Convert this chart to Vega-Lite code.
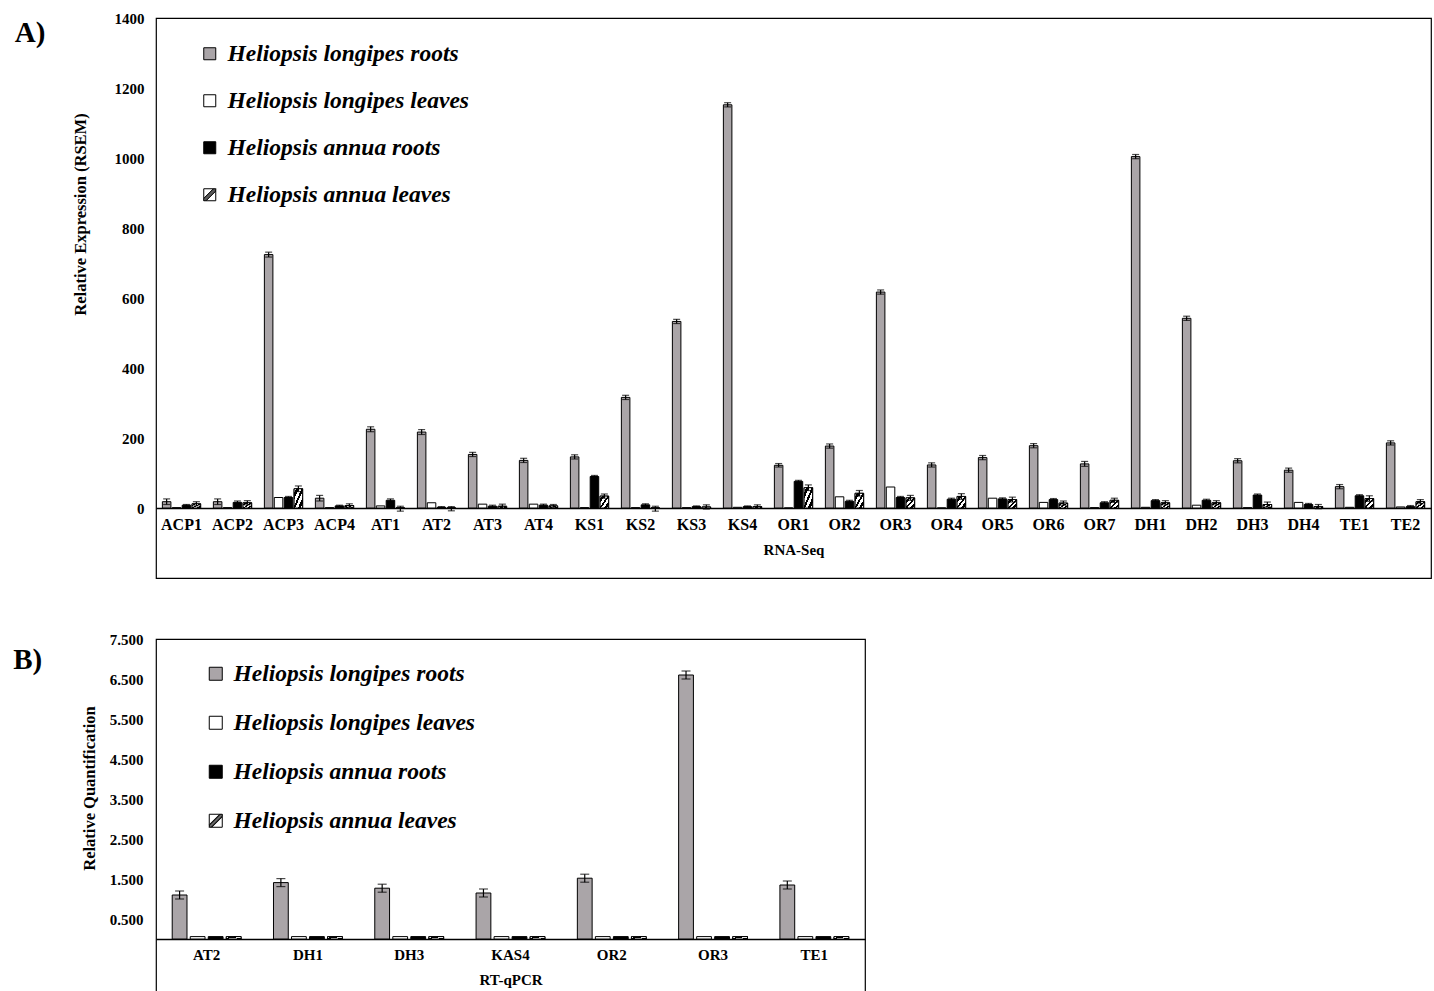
{
  "$schema": "https://vega.github.io/schema/vega-lite/v6.json",
  "padding": {"left": 12, "top": 10, "right": 0, "bottom": 0},
  "spacing": 52,
  "config": {
    "font": "Liberation Serif",
    "view": {"stroke": "black", "strokeWidth": 1.2},
    "axis": {"labelFont": "Liberation Serif", "labelFontWeight": "bold", "labelColor": "black", "titleFont": "Liberation Serif", "titleFontWeight": "bold", "titleColor": "black", "grid": false, "ticks": false},
    "legend": {"labelFont": "Liberation Serif", "labelFontWeight": "bold", "labelFontStyle": "italic", "labelColor": "black", "symbolType": "square", "symbolStrokeColor": "black", "symbolStrokeWidth": 1, "padding": 0, "labelLimit": 500}
  },
  "resolve": {"legend": {"fill": "independent"}, "scale": {"x": "independent", "xOffset": "independent", "y": "independent", "fill": "independent"}},
  "datasets": {
    "rna": [
      {"gene": "ACP1", "group": "Heliopsis longipes roots", "v": 18, "lo": 10, "hi": 26},
      {"gene": "ACP1", "group": "Heliopsis longipes leaves", "v": 1},
      {"gene": "ACP1", "group": "Heliopsis annua roots", "v": 8, "lo": 6, "hi": 10},
      {"gene": "ACP1", "group": "Heliopsis annua leaves", "v": 12, "lo": 6, "hi": 18},
      {"gene": "ACP2", "group": "Heliopsis longipes roots", "v": 18, "lo": 10, "hi": 26},
      {"gene": "ACP2", "group": "Heliopsis longipes leaves", "v": 1},
      {"gene": "ACP2", "group": "Heliopsis annua roots", "v": 16, "lo": 12, "hi": 20},
      {"gene": "ACP2", "group": "Heliopsis annua leaves", "v": 15, "lo": 9, "hi": 21},
      {"gene": "ACP3", "group": "Heliopsis longipes roots", "v": 724, "lo": 717, "hi": 731},
      {"gene": "ACP3", "group": "Heliopsis longipes leaves", "v": 30},
      {"gene": "ACP3", "group": "Heliopsis annua roots", "v": 30, "lo": 27, "hi": 33},
      {"gene": "ACP3", "group": "Heliopsis annua leaves", "v": 55, "lo": 47, "hi": 63},
      {"gene": "ACP4", "group": "Heliopsis longipes roots", "v": 28, "lo": 20, "hi": 36},
      {"gene": "ACP4", "group": "Heliopsis longipes leaves", "v": 1},
      {"gene": "ACP4", "group": "Heliopsis annua roots", "v": 6, "lo": 4, "hi": 8},
      {"gene": "ACP4", "group": "Heliopsis annua leaves", "v": 7, "lo": 2, "hi": 12},
      {"gene": "AT1", "group": "Heliopsis longipes roots", "v": 225, "lo": 218, "hi": 232},
      {"gene": "AT1", "group": "Heliopsis longipes leaves", "v": 6},
      {"gene": "AT1", "group": "Heliopsis annua roots", "v": 22, "lo": 18, "hi": 26},
      {"gene": "AT1", "group": "Heliopsis annua leaves", "v": 0, "lo": -9, "hi": 5},
      {"gene": "AT2", "group": "Heliopsis longipes roots", "v": 217, "lo": 210, "hi": 224},
      {"gene": "AT2", "group": "Heliopsis longipes leaves", "v": 15},
      {"gene": "AT2", "group": "Heliopsis annua roots", "v": 2, "lo": 0, "hi": 4},
      {"gene": "AT2", "group": "Heliopsis annua leaves", "v": 0, "lo": -8, "hi": 4},
      {"gene": "AT3", "group": "Heliopsis longipes roots", "v": 153, "lo": 147, "hi": 159},
      {"gene": "AT3", "group": "Heliopsis longipes leaves", "v": 11},
      {"gene": "AT3", "group": "Heliopsis annua roots", "v": 5, "lo": 2, "hi": 8},
      {"gene": "AT3", "group": "Heliopsis annua leaves", "v": 5, "lo": -1, "hi": 11},
      {"gene": "AT4", "group": "Heliopsis longipes roots", "v": 136, "lo": 130, "hi": 142},
      {"gene": "AT4", "group": "Heliopsis longipes leaves", "v": 11},
      {"gene": "AT4", "group": "Heliopsis annua roots", "v": 8, "lo": 5, "hi": 11},
      {"gene": "AT4", "group": "Heliopsis annua leaves", "v": 6, "lo": 2, "hi": 10},
      {"gene": "KS1", "group": "Heliopsis longipes roots", "v": 146, "lo": 140, "hi": 152},
      {"gene": "KS1", "group": "Heliopsis longipes leaves", "v": 1},
      {"gene": "KS1", "group": "Heliopsis annua roots", "v": 90, "lo": 87, "hi": 93},
      {"gene": "KS1", "group": "Heliopsis annua leaves", "v": 34, "lo": 28, "hi": 40},
      {"gene": "KS2", "group": "Heliopsis longipes roots", "v": 316, "lo": 310, "hi": 322},
      {"gene": "KS2", "group": "Heliopsis longipes leaves", "v": 1},
      {"gene": "KS2", "group": "Heliopsis annua roots", "v": 9, "lo": 6, "hi": 12},
      {"gene": "KS2", "group": "Heliopsis annua leaves", "v": 0, "lo": -9, "hi": 5},
      {"gene": "KS3", "group": "Heliopsis longipes roots", "v": 533, "lo": 527, "hi": 539},
      {"gene": "KS3", "group": "Heliopsis longipes leaves", "v": 1},
      {"gene": "KS3", "group": "Heliopsis annua roots", "v": 4, "lo": 2, "hi": 6},
      {"gene": "KS3", "group": "Heliopsis annua leaves", "v": 3, "lo": -3, "hi": 9},
      {"gene": "KS4", "group": "Heliopsis longipes roots", "v": 1152, "lo": 1146, "hi": 1158},
      {"gene": "KS4", "group": "Heliopsis longipes leaves", "v": 2},
      {"gene": "KS4", "group": "Heliopsis annua roots", "v": 4, "lo": 2, "hi": 6},
      {"gene": "KS4", "group": "Heliopsis annua leaves", "v": 4, "lo": -1, "hi": 9},
      {"gene": "OR1", "group": "Heliopsis longipes roots", "v": 122, "lo": 117, "hi": 127},
      {"gene": "OR1", "group": "Heliopsis longipes leaves", "v": 0},
      {"gene": "OR1", "group": "Heliopsis annua roots", "v": 76, "lo": 73, "hi": 79},
      {"gene": "OR1", "group": "Heliopsis annua leaves", "v": 58, "lo": 50, "hi": 66},
      {"gene": "OR2", "group": "Heliopsis longipes roots", "v": 177, "lo": 171, "hi": 183},
      {"gene": "OR2", "group": "Heliopsis longipes leaves", "v": 32},
      {"gene": "OR2", "group": "Heliopsis annua roots", "v": 19, "lo": 16, "hi": 22},
      {"gene": "OR2", "group": "Heliopsis annua leaves", "v": 42, "lo": 34, "hi": 50},
      {"gene": "OR3", "group": "Heliopsis longipes roots", "v": 617, "lo": 611, "hi": 623},
      {"gene": "OR3", "group": "Heliopsis longipes leaves", "v": 60},
      {"gene": "OR3", "group": "Heliopsis annua roots", "v": 30, "lo": 27, "hi": 33},
      {"gene": "OR3", "group": "Heliopsis annua leaves", "v": 29, "lo": 22, "hi": 36},
      {"gene": "OR4", "group": "Heliopsis longipes roots", "v": 123, "lo": 117, "hi": 129},
      {"gene": "OR4", "group": "Heliopsis longipes leaves", "v": 0},
      {"gene": "OR4", "group": "Heliopsis annua roots", "v": 25, "lo": 22, "hi": 28},
      {"gene": "OR4", "group": "Heliopsis annua leaves", "v": 33, "lo": 25, "hi": 41},
      {"gene": "OR5", "group": "Heliopsis longipes roots", "v": 144, "lo": 138, "hi": 150},
      {"gene": "OR5", "group": "Heliopsis longipes leaves", "v": 28},
      {"gene": "OR5", "group": "Heliopsis annua roots", "v": 26, "lo": 23, "hi": 29},
      {"gene": "OR5", "group": "Heliopsis annua leaves", "v": 24, "lo": 17, "hi": 31},
      {"gene": "OR6", "group": "Heliopsis longipes roots", "v": 178, "lo": 172, "hi": 184},
      {"gene": "OR6", "group": "Heliopsis longipes leaves", "v": 16},
      {"gene": "OR6", "group": "Heliopsis annua roots", "v": 24, "lo": 21, "hi": 27},
      {"gene": "OR6", "group": "Heliopsis annua leaves", "v": 14, "lo": 8, "hi": 20},
      {"gene": "OR7", "group": "Heliopsis longipes roots", "v": 126, "lo": 119, "hi": 133},
      {"gene": "OR7", "group": "Heliopsis longipes leaves", "v": 1},
      {"gene": "OR7", "group": "Heliopsis annua roots", "v": 15, "lo": 12, "hi": 18},
      {"gene": "OR7", "group": "Heliopsis annua leaves", "v": 22, "lo": 16, "hi": 28},
      {"gene": "DH1", "group": "Heliopsis longipes roots", "v": 1004, "lo": 998, "hi": 1010},
      {"gene": "DH1", "group": "Heliopsis longipes leaves", "v": 2},
      {"gene": "DH1", "group": "Heliopsis annua roots", "v": 21, "lo": 18, "hi": 24},
      {"gene": "DH1", "group": "Heliopsis annua leaves", "v": 15, "lo": 9, "hi": 21},
      {"gene": "DH2", "group": "Heliopsis longipes roots", "v": 542, "lo": 536, "hi": 548},
      {"gene": "DH2", "group": "Heliopsis longipes leaves", "v": 8},
      {"gene": "DH2", "group": "Heliopsis annua roots", "v": 22, "lo": 19, "hi": 25},
      {"gene": "DH2", "group": "Heliopsis annua leaves", "v": 15, "lo": 9, "hi": 21},
      {"gene": "DH3", "group": "Heliopsis longipes roots", "v": 135, "lo": 129, "hi": 141},
      {"gene": "DH3", "group": "Heliopsis longipes leaves", "v": 1},
      {"gene": "DH3", "group": "Heliopsis annua roots", "v": 37, "lo": 34, "hi": 40},
      {"gene": "DH3", "group": "Heliopsis annua leaves", "v": 10, "lo": 3, "hi": 17},
      {"gene": "DH4", "group": "Heliopsis longipes roots", "v": 108, "lo": 102, "hi": 114},
      {"gene": "DH4", "group": "Heliopsis longipes leaves", "v": 16},
      {"gene": "DH4", "group": "Heliopsis annua roots", "v": 10, "lo": 7, "hi": 13},
      {"gene": "DH4", "group": "Heliopsis annua leaves", "v": 4, "lo": -2, "hi": 10},
      {"gene": "TE1", "group": "Heliopsis longipes roots", "v": 61, "lo": 55, "hi": 67},
      {"gene": "TE1", "group": "Heliopsis longipes leaves", "v": 2},
      {"gene": "TE1", "group": "Heliopsis annua roots", "v": 35, "lo": 32, "hi": 38},
      {"gene": "TE1", "group": "Heliopsis annua leaves", "v": 27, "lo": 19, "hi": 35},
      {"gene": "TE2", "group": "Heliopsis longipes roots", "v": 186, "lo": 180, "hi": 192},
      {"gene": "TE2", "group": "Heliopsis longipes leaves", "v": 3},
      {"gene": "TE2", "group": "Heliopsis annua roots", "v": 4, "lo": 1, "hi": 7},
      {"gene": "TE2", "group": "Heliopsis annua leaves", "v": 18, "lo": 12, "hi": 24}
    ],
    "qpcr": [
      {"gene": "AT2", "group": "Heliopsis longipes roots", "v": 1.10, "lo": 1.00, "hi": 1.20},
      {"gene": "AT2", "group": "Heliopsis longipes leaves", "v": 0.06},
      {"gene": "AT2", "group": "Heliopsis annua roots", "v": 0.06},
      {"gene": "AT2", "group": "Heliopsis annua leaves", "v": 0.06},
      {"gene": "DH1", "group": "Heliopsis longipes roots", "v": 1.41, "lo": 1.31, "hi": 1.51},
      {"gene": "DH1", "group": "Heliopsis longipes leaves", "v": 0.06},
      {"gene": "DH1", "group": "Heliopsis annua roots", "v": 0.06},
      {"gene": "DH1", "group": "Heliopsis annua leaves", "v": 0.06},
      {"gene": "DH3", "group": "Heliopsis longipes roots", "v": 1.27, "lo": 1.17, "hi": 1.37},
      {"gene": "DH3", "group": "Heliopsis longipes leaves", "v": 0.06},
      {"gene": "DH3", "group": "Heliopsis annua roots", "v": 0.06},
      {"gene": "DH3", "group": "Heliopsis annua leaves", "v": 0.06},
      {"gene": "KAS4", "group": "Heliopsis longipes roots", "v": 1.15, "lo": 1.05, "hi": 1.25},
      {"gene": "KAS4", "group": "Heliopsis longipes leaves", "v": 0.06},
      {"gene": "KAS4", "group": "Heliopsis annua roots", "v": 0.06},
      {"gene": "KAS4", "group": "Heliopsis annua leaves", "v": 0.06},
      {"gene": "OR2", "group": "Heliopsis longipes roots", "v": 1.52, "lo": 1.42, "hi": 1.62},
      {"gene": "OR2", "group": "Heliopsis longipes leaves", "v": 0.06},
      {"gene": "OR2", "group": "Heliopsis annua roots", "v": 0.06},
      {"gene": "OR2", "group": "Heliopsis annua leaves", "v": 0.06},
      {"gene": "OR3", "group": "Heliopsis longipes roots", "v": 6.60, "lo": 6.50, "hi": 6.70},
      {"gene": "OR3", "group": "Heliopsis longipes leaves", "v": 0.06},
      {"gene": "OR3", "group": "Heliopsis annua roots", "v": 0.06},
      {"gene": "OR3", "group": "Heliopsis annua leaves", "v": 0.06},
      {"gene": "TE1", "group": "Heliopsis longipes roots", "v": 1.35, "lo": 1.25, "hi": 1.45},
      {"gene": "TE1", "group": "Heliopsis longipes leaves", "v": 0.06},
      {"gene": "TE1", "group": "Heliopsis annua roots", "v": 0.06},
      {"gene": "TE1", "group": "Heliopsis annua leaves", "v": 0.06}
    ]
  },
  "vconcat": [
    {
      "width": 1275,
      "height": 560,
      "data": {"name": "rna"},
      "title": {"text": "A)", "orient": "left", "angle": 0, "anchor": "end", "fontSize": 29, "fontWeight": "bold", "font": "Liberation Serif", "color": "black", "offset": -4, "dy": 8, "align": "right", "baseline": "top"},
      "encoding": {
        "x": {"field": "gene", "type": "nominal", "sort": null, "scale": {"paddingInner": 0.25, "paddingOuter": 0.125},
              "axis": {"title": "RNA-Seq", "orient": "bottom", "offset": -70, "labelAngle": 0, "labelFontSize": 16, "labelPadding": 8, "titleFontSize": 15, "titlePadding": 10, "domainColor": "black", "domainWidth": 1.5}},
        "xOffset": {"field": "group", "type": "nominal", "sort": ["Heliopsis longipes roots", "Heliopsis longipes leaves", "Heliopsis annua roots", "Heliopsis annua leaves"], "scale": {"paddingInner": 0.14}}
      },
      "layer": [
        {
          "mark": {"type": "bar", "stroke": "black", "strokeWidth": 1},
          "encoding": {
            "y": {"field": "v", "type": "quantitative", "stack": null, "title": "Relative Expression (RSEM)",
                  "scale": {"domain": [-200, 1400], "nice": false, "zero": false},
                  "axis": {"values": [0, 200, 400, 600, 800, 1000, 1200, 1400], "format": "d", "domain": false, "labelFontSize": 15, "labelPadding": 12, "titleFontSize": 16.5, "titlePadding": 26, "titleY": 196}},
            "fill": {"field": "group", "type": "nominal",
                     "scale": {"domain": ["Heliopsis longipes roots", "Heliopsis longipes leaves", "Heliopsis annua roots", "Heliopsis annua leaves"],
                               "range": ["#aaa5a8", "#ffffff", "#000000", "#ffffff"]},
                     "legend": {"title": null, "orient": "none", "legendX": 42, "legendY": 24, "labelFontSize": 23.5, "symbolSize": 144, "rowPadding": 22, "labelOffset": 6,
                                "encode": {"symbols": {"update": {
                                  "stroke": {"value": "black"}, "strokeWidth": {"value": 1},
                                  "shape": {"signal": "datum.value === 'Heliopsis annua leaves' ? 'M-1,-1H1V1H-1Z M-1,0.6L0.6,-1 M-1,0.8L0.8,-1 M-1,1L1,-1 M-0.8,1L1,-0.8 M-0.6,1L1,-0.6' : 'square'"}}}}}}
          }
        },
        {
          "transform": [{"filter": "datum.group === 'Heliopsis annua leaves'"}],
          "mark": {"type": "bar", "stroke": "black", "strokeWidth": 1,
                   "fill": {"gradient": "linear", "x1": 0, "y1": 0, "x2": 1, "y2": 1, "stops": [
                     {"offset": 0, "color": "#ffffff"}, {"offset": 0.12, "color": "#ffffff"}, {"offset": 0.12, "color": "#000000"}, {"offset": 0.28, "color": "#000000"},
                     {"offset": 0.28, "color": "#ffffff"}, {"offset": 0.44, "color": "#ffffff"}, {"offset": 0.44, "color": "#000000"}, {"offset": 0.56, "color": "#000000"},
                     {"offset": 0.56, "color": "#ffffff"}, {"offset": 0.72, "color": "#ffffff"}, {"offset": 0.72, "color": "#000000"}, {"offset": 0.88, "color": "#000000"},
                     {"offset": 0.88, "color": "#ffffff"}, {"offset": 1, "color": "#ffffff"}]}},
          "encoding": {"y": {"field": "v", "type": "quantitative", "stack": null, "title": "Relative Expression (RSEM)"}}
        },
        {
          "mark": {"type": "rule", "color": "black", "strokeWidth": 1.2},
          "encoding": {"y": {"field": "lo", "type": "quantitative", "title": "Relative Expression (RSEM)"}, "y2": {"field": "hi"}}
        },
        {
          "mark": {"type": "tick", "color": "black", "thickness": 1.2, "size": 7, "orient": "horizontal"},
          "encoding": {"y": {"field": "lo", "type": "quantitative", "title": "Relative Expression (RSEM)"}}
        },
        {
          "mark": {"type": "tick", "color": "black", "thickness": 1.2, "size": 7, "orient": "horizontal"},
          "encoding": {"y": {"field": "hi", "type": "quantitative", "title": "Relative Expression (RSEM)"}}
        }
      ]
    },
    {
      "width": 709,
      "height": 354,
      "data": {"name": "qpcr"},
      "title": {"text": "B)", "orient": "left", "angle": 0, "anchor": "end", "fontSize": 29, "fontWeight": "bold", "font": "Liberation Serif", "color": "black", "offset": 10, "dy": 14, "align": "right", "baseline": "top"},
      "encoding": {
        "x": {"field": "gene", "type": "nominal", "sort": null, "scale": {"paddingInner": 0.32, "paddingOuter": 0.16},
              "axis": {"title": "RT-qPCR", "orient": "bottom", "offset": -54, "labelAngle": 0, "labelFontSize": 15, "labelPadding": 8, "titleFontSize": 15, "titlePadding": 10, "domainColor": "black", "domainWidth": 1.5}},
        "xOffset": {"field": "group", "type": "nominal", "sort": ["Heliopsis longipes roots", "Heliopsis longipes leaves", "Heliopsis annua roots", "Heliopsis annua leaves"], "scale": {"paddingInner": 0.18}}
      },
      "layer": [
        {
          "mark": {"type": "bar", "stroke": "black", "strokeWidth": 1},
          "encoding": {
            "y": {"field": "v", "type": "quantitative", "stack": null, "title": "Relative Quantification",
                  "scale": {"domain": [-1.35, 7.5], "nice": false, "zero": false},
                  "axis": {"values": [0.5, 1.5, 2.5, 3.5, 4.5, 5.5, 6.5, 7.5], "format": ".3f", "domain": false, "labelFontSize": 15, "labelPadding": 13, "titleFontSize": 16.5, "titlePadding": 12, "titleY": 149}},
            "fill": {"field": "group", "type": "nominal",
                     "scale": {"domain": ["Heliopsis longipes roots", "Heliopsis longipes leaves", "Heliopsis annua roots", "Heliopsis annua leaves"],
                               "range": ["#aaa5a8", "#ffffff", "#000000", "#ffffff"]},
                     "legend": {"title": null, "orient": "none", "legendX": 48, "legendY": 23, "labelFontSize": 23.5, "symbolSize": 169, "rowPadding": 24, "labelOffset": 6,
                                "encode": {"symbols": {"update": {
                                  "stroke": {"value": "black"}, "strokeWidth": {"value": 1},
                                  "shape": {"signal": "datum.value === 'Heliopsis annua leaves' ? 'M-1,-1H1V1H-1Z M-1,0.6L0.6,-1 M-1,0.8L0.8,-1 M-1,1L1,-1 M-0.8,1L1,-0.8 M-0.6,1L1,-0.6' : 'square'"}}}}}}
          }
        },
        {
          "transform": [{"filter": "datum.group === 'Heliopsis annua leaves'"}],
          "mark": {"type": "bar", "stroke": "black", "strokeWidth": 1,
                   "fill": {"gradient": "linear", "x1": 0, "y1": 0, "x2": 1, "y2": 1, "stops": [
                     {"offset": 0, "color": "#ffffff"}, {"offset": 0.25, "color": "#ffffff"}, {"offset": 0.25, "color": "#000000"}, {"offset": 0.5, "color": "#000000"},
                     {"offset": 0.5, "color": "#ffffff"}, {"offset": 0.75, "color": "#ffffff"}, {"offset": 0.75, "color": "#000000"}, {"offset": 1, "color": "#000000"}]}},
          "encoding": {"y": {"field": "v", "type": "quantitative", "stack": null, "title": "Relative Quantification"}}
        },
        {
          "mark": {"type": "rule", "color": "black", "strokeWidth": 1.2},
          "encoding": {"y": {"field": "lo", "type": "quantitative", "title": "Relative Quantification"}, "y2": {"field": "hi"}}
        },
        {
          "mark": {"type": "tick", "color": "black", "thickness": 1.2, "size": 9, "orient": "horizontal"},
          "encoding": {"y": {"field": "lo", "type": "quantitative", "title": "Relative Quantification"}}
        },
        {
          "mark": {"type": "tick", "color": "black", "thickness": 1.2, "size": 9, "orient": "horizontal"},
          "encoding": {"y": {"field": "hi", "type": "quantitative", "title": "Relative Quantification"}}
        }
      ]
    }
  ]
}
